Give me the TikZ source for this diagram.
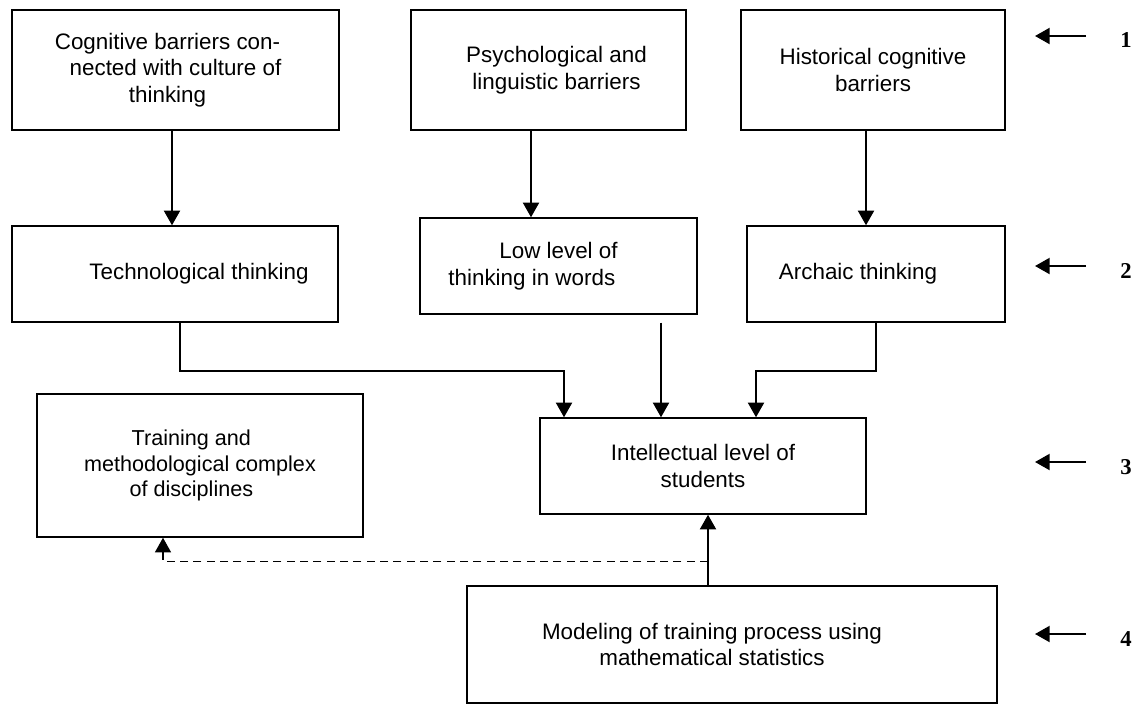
\documentclass[tikz,border=0pt]{standalone}
\usepackage{fontspec}
\setmainfont{Liberation Sans}
\newfontfamily\numfont{Liberation Serif}
\usetikzlibrary{arrows.meta,positioning,calc}

\tikzset{
  box/.style={draw, line width=1.1pt, align=center, inner sep=0pt,
    font=\fontsize{16.8}{20}\selectfont},
  arr/.style={line width=1.6pt, -{Triangle[width=12pt,length=11pt]}},
  num/.style={inner sep=0pt, font=\numfont\bfseries\fontsize{17}{20}\selectfont},
}

\begin{document}
\begin{tikzpicture}[x=0.75pt,y=-0.75pt]
   \useasboundingbox (0,0) rectangle (1137,704);
   % level 1: barriers
   \node[box, minimum width=245.25pt, minimum height=90pt] (cogn) at (175.5,70)
     {Cognitive barriers con-\hspace*{12pt}\\nected with culture of\hspace*{12pt}\\thinking\hspace*{12pt}};
   \node[box, minimum width=206.25pt, minimum height=90pt] (psych) at (548.5,70)
     {\hspace*{12pt}Psychological and\\\hspace*{12pt}linguistic barriers};
   \node[box, minimum width=198pt, minimum height=90pt] (hist) at (873,70)
     {Historical cognitive\\barriers};
   % level 2: thinking
   \node[box, minimum width=244.5pt, minimum height=72pt] (tech) at (175,274)
     {\hspace*{36pt}Technological thinking};
   \node[box, minimum width=207.75pt, minimum height=72pt] (low) at (558.5,266)
     {Low level of\\thinking in words\hspace*{40pt}};
   \node[box, minimum width=193.5pt, minimum height=72pt] (arch) at (876,274)
     {Archaic thinking\hspace*{27pt}};
   % level 3
   \node[box, minimum width=244.5pt, minimum height=72pt] (intel) at (703,466)
     {Intellectual level of\\students};
   \node[box, minimum width=244.5pt, minimum height=107.25pt,
     font=\fontsize{16.2}{19}\selectfont] (train) at (200,465.5)
     {Training and\hspace*{13pt}\\methodological complex\hspace*{13pt}\\of disciplines\hspace*{13pt}};
   % level 4
   \node[box, minimum width=397.5pt, minimum height=87.75pt] (model) at (732,644.5)
     {Modeling of training process using\hspace*{30pt}\\mathematical statistics\hspace*{30pt}};

   % start points of the connectors
   \coordinate (c1) at ($(cogn.south)+(-3.5,0)$);
   \coordinate (c2) at ($(psych.south)+(-17.5,0)$);
   \coordinate (c3) at ($(hist.south)+(-7,0)$);
   \coordinate (c4) at ($(low.south)+(102.5,8)$);
   \coordinate (c5) at ($(model.north)+(-24,0)$);
   \coordinate (c6) at ($(model.north)+(-24,-24)$);

   \draw[arr] (c1) -- (c1 |- tech.north);
   \draw[arr] (c2) -- (c2 |- low.north);
   \draw[arr] (c3) -- (c3 |- arch.north);
   \draw[arr] ($(tech.south)+(5,0)$) -- ++(0,48) -| ($(intel.north)+(-139,0)$);
   \draw[arr] (c4) -- (c4 |- intel.north);
   \draw[arr] (arch.south) -- ++(0,48) -| ($(intel.north)+(53,0)$);
   \draw[arr] (c5) -- (c5 |- intel.south);
   \draw[arr, line width=1.1pt, dash pattern=on 6pt off 4pt]
     (c6) -| ($(train.south)+(-37,0)$);

   % level marks
   \node[num] (n1) at (1126,40) {1};
   \node[num] (n2) at (1126,271) {2};
   \node[num] (n3) at (1126,467) {3};
   \node[num] (n4) at (1126,639) {4};
   \draw[arr] ($(n1)+(-40,-4)$) -- ($(n1)+(-91,-4)$);
   \draw[arr] ($(n2)+(-40,-5)$) -- ($(n2)+(-91,-5)$);
   \draw[arr] ($(n3)+(-40,-5)$) -- ($(n3)+(-91,-5)$);
   \draw[arr] ($(n4)+(-40,-5)$) -- ($(n4)+(-91,-5)$);
\end{tikzpicture}
\end{document}
